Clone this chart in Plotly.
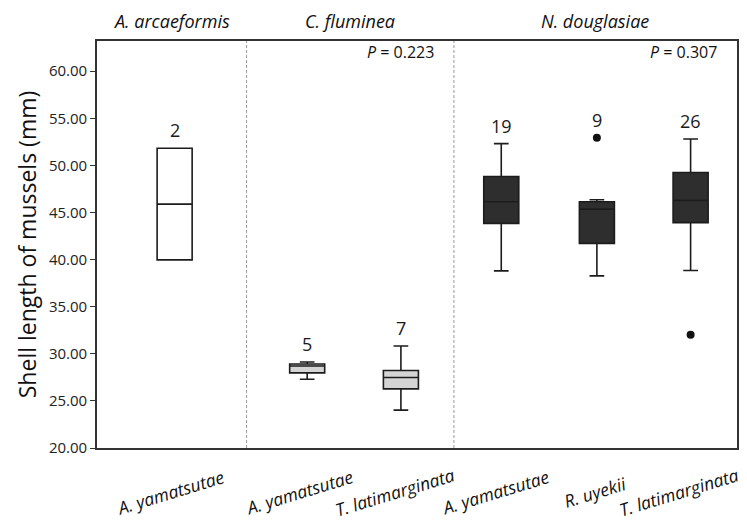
import plotly.graph_objects as go

# ---- data ----
groups = ["A. arcaeformis", "C. fluminea", "N. douglasiae"]
categories = ["A. yamatsutae", "A. yamatsutae", "T. latimarginata",
              "A. yamatsutae", "R. uyekii", "T. latimarginata"]
cat_group = [0, 1, 1, 2, 2, 2]
q1 = [39.97, 27.97, 26.28, 43.84, 41.72, 43.92]
median = [45.89, 28.71, 27.48, 46.14, 45.36, 46.28]
q3 = [51.82, 28.92, 28.22, 48.81, 46.14, 49.24]
lower = [39.97, 27.30, 24.02, 38.80, 38.27, 38.84]
upper = [51.82, 29.13, 30.83, 52.31, 46.35, 52.80]
outliers = [[], [], [], [], [52.94], [32.03]]
counts = ["2", "5", "7", "19", "9", "26"]
p_values = [None, "0.223", "0.307"]
y_ticks = [20, 25, 30, 35, 40, 45, 50, 55, 60]

# ---- layout helpers (positions / styles) ----
xpos = [0.82, 2.22, 3.21, 4.27, 5.28, 6.27]
label_shift = [-4, -8, -6, -6, -2, -12]
panel_edges = [0.0, 1.58, 3.77, 6.76]
fills = ["#ffffff", "#d4d4d4", "#2e2e2e"]
line_col = "#1c1c1c"
FONT = "Open Sans"

fig = go.Figure()
for i in range(len(categories)):
    fig.add_trace(go.Box(
        x=[xpos[i]], q1=[q1[i]], median=[median[i]], q3=[q3[i]],
        lowerfence=[lower[i]], upperfence=[upper[i]],
        width=0.37, whiskerwidth=0.42,
        fillcolor=fills[cat_group[i]],
        line=dict(color=line_col, width=1.6),
        boxpoints=False, showlegend=False, hoverinfo="skip",
    ))
    if outliers[i]:
        fig.add_trace(go.Scatter(
            x=[xpos[i]] * len(outliers[i]), y=outliers[i], mode="markers",
            marker=dict(color="#111111", size=8), showlegend=False,
            hoverinfo="skip"))

annotations = []
# counts above boxes
for i in range(len(categories)):
    top = max([upper[i]] + outliers[i])
    annotations.append(dict(x=xpos[i], y=top, xref="x", yref="y",
                            text=counts[i], showarrow=False, yanchor="bottom",
                            yshift=4, font=dict(family=FONT, size=18, color="#1a1a1a")))
# x category labels (rotated)
for i in range(len(categories)):
    annotations.append(dict(x=xpos[i], y=-0.108, xref="x", yref="paper",
                            text="<i>" + categories[i] + "</i>", showarrow=False,
                            textangle=-17, xanchor="center", yanchor="middle",
                            xshift=label_shift[i],
                            font=dict(family=FONT, size=17.5, color="#111")))
# group labels
for g in range(len(groups)):
    cx = (panel_edges[g] + panel_edges[g + 1]) / 2
    annotations.append(dict(x=cx, y=1.05, xref="x", yref="paper",
                            text="<i>" + groups[g] + "</i>", showarrow=False,
                            yanchor="middle",
                            font=dict(family=FONT, size=18, color="#111")))
    if p_values[g]:
        annotations.append(dict(x=panel_edges[g + 1] - 0.19, y=0.972, xref="x",
                                yref="paper", text="<i>P</i> = " + p_values[g],
                                showarrow=False, xanchor="right", yanchor="middle",
                                font=dict(family=FONT, size=16, color="#111")))

shapes = []
for e in panel_edges[1:-1]:
    shapes.append(dict(type="line", x0=e, x1=e, xref="x", y0=0, y1=1,
                       yref="paper", line=dict(color="#9a9a9a", width=1, dash="3px,2px")))

fig.update_layout(
    width=747, height=521,
    margin=dict(l=97, r=8, t=41, b=73),
    paper_bgcolor="white", plot_bgcolor="white",
    annotations=annotations, shapes=shapes,
    font=dict(family=FONT, color="#222"),
    xaxis=dict(range=[panel_edges[0], panel_edges[-1]], showticklabels=False,
               ticks="", showgrid=False, zeroline=False,
               showline=True, mirror=True, linecolor="#333", linewidth=1.6),
    yaxis=dict(range=[20, 63.2], tickvals=y_ticks, tickformat=".2f",
               ticks="outside", ticklen=5, tickcolor="#333", tickwidth=1.3,
               showgrid=False, zeroline=False,
               showline=True, mirror=True, linecolor="#333", linewidth=1.6,
               tickfont=dict(family=FONT, size=15, color="#222"),
               title=dict(text="Shell length of mussels (mm)", standoff=6,
                          font=dict(family=FONT, size=23, color="#111"))),
)

fig.write_html("out.html")
